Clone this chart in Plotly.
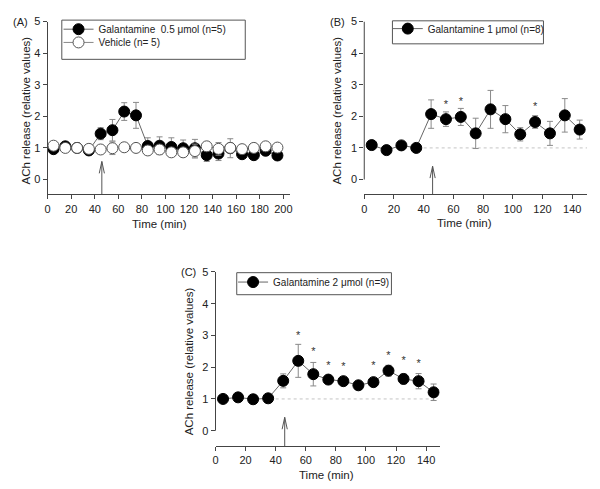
import plotly.graph_objects as go

W, H = 600, 489

# ---------------- data ----------------
TIME_A = [5, 15, 25, 35, 45, 55, 65, 75, 85, 95, 105, 115, 125, 135, 145, 155, 165, 175, 185, 195]
GAL05 = [0.96, 1.05, 1.0, 0.92, 1.45, 1.56, 2.15, 2.03, 1.06, 1.07, 1.03, 0.99, 0.99, 0.77, 0.82, 0.99, 0.80, 0.77, 0.91, 0.76]
GAL05_ERR = [0.05, 0.05, 0.05, 0.05, 0.19, 0.34, 0.28, 0.41, 0.26, 0.28, 0.29, 0.26, 0.28, 0.2, 0.22, 0.3, 0.1, 0.1, 0.1, 0.1]
VEH = [1.07, 1.0, 1.0, 0.97, 0.95, 0.99, 1.02, 1.0, 0.92, 0.95, 0.86, 0.86, 0.9, 1.05, 0.97, 1.0, 0.96, 1.0, 1.05, 1.01]
VEH_ERR = [0.05, 0.05, 0.05, 0.05, 0.08, 0.2, 0.08, 0.05, 0.1, 0.1, 0.12, 0.12, 0.22, 0.1, 0.2, 0.15, 0.1, 0.1, 0.1, 0.1]

TIME_BC = [5, 15, 25, 35, 45, 55, 65, 75, 85, 95, 105, 115, 125, 135, 145]
GAL1 = [1.09, 0.93, 1.08, 1.0, 2.07, 1.91, 1.98, 1.46, 2.22, 1.91, 1.43, 1.82, 1.46, 2.03, 1.58]
GAL1_ERR = [0.04, 0.04, 0.04, 0.04, 0.45, 0.23, 0.27, 0.48, 0.6, 0.43, 0.21, 0.2, 0.38, 0.53, 0.3]
GAL2 = [1.0, 1.05, 0.99, 1.02, 1.57, 2.2, 1.78, 1.61, 1.56, 1.43, 1.53, 1.89, 1.63, 1.56, 1.21]
GAL2_ERR = [0.04, 0.04, 0.04, 0.04, 0.22, 0.52, 0.37, 0.1, 0.1, 0.05, 0.1, 0.17, 0.16, 0.24, 0.26]

STAR_B_X = [55, 65, 115]
STAR_B_Y = [2.34, 2.45, 2.28]
STAR_C_X = [55, 65, 75, 85, 105, 115, 125, 135]
STAR_C_Y = [2.96, 2.46, 2.02, 1.99, 2.02, 2.35, 2.18, 2.08]

Y_TICKS = [0, 1, 2, 3, 4, 5]
X_TICKS_A = [0, 20, 40, 60, 80, 100, 120, 140, 160, 180, 200]
X_TICKS_BC = [0, 20, 40, 60, 80, 100, 120, 140]
INJECTION_TIME = 46
ARROW_TIP = {"A": 0.57, "B": 0.42, "C": 0.42}
BASELINE = 1

NAME_A1 = "Galantamine\u00a0 0.5 \u03bcmol (n=5)"
NAME_A2 = "Vehicle (n= 5)"
NAME_B = "Galantamine 1 \u03bcmol (n=8)"
NAME_C = "Galantamine 2 \u03bcmol (n=9)"
Y_TITLE = "ACh release (relative values)"
X_TITLE = "Time (min)"

FONT = "Liberation Sans, Arial, sans-serif"
AX_COL = "#444444"
TXT_COL = "#222222"
LINE_COL = "#666666"
ERR_COL = "#8a8a8a"
MSIZE = 11
LEG_OFF = 18.5  # px from legend top to first row centre


def px(x):
    return x / W


def py(y):
    return 1 - y / H


def err(arr):
    return dict(type="data", array=arr, visible=True, color=ERR_COL, thickness=1, width=3)


fig = go.Figure()

# Panel A
fig.add_trace(go.Scatter(
    x=TIME_A, y=GAL05, error_y=err(GAL05_ERR), mode="lines+markers", name=NAME_A1,
    line=dict(color=LINE_COL, width=1),
    marker=dict(size=MSIZE, color="black", line=dict(color="black", width=1)),
    xaxis="x", yaxis="y", legend="legend"))
fig.add_trace(go.Scatter(
    x=TIME_A, y=VEH, error_y=err(VEH_ERR), mode="lines+markers", name=NAME_A2,
    line=dict(color="#888888", width=1),
    marker=dict(size=MSIZE, color="white", line=dict(color="#555555", width=1)),
    xaxis="x", yaxis="y", legend="legend4"))

# Panel B
fig.add_trace(go.Scatter(
    x=TIME_BC, y=GAL1, error_y=err(GAL1_ERR), mode="lines+markers", name=NAME_B,
    line=dict(color=LINE_COL, width=1),
    marker=dict(size=MSIZE, color="black", line=dict(color="black", width=1)),
    xaxis="x2", yaxis="y2", legend="legend2"))
fig.add_trace(go.Scatter(
    x=STAR_B_X, y=STAR_B_Y, mode="text", text=["*"] * len(STAR_B_X), showlegend=False,
    textposition="middle center",
    textfont=dict(size=11, color="#333333", family=FONT), hoverinfo="skip",
    xaxis="x2", yaxis="y2"))

# Panel C
fig.add_trace(go.Scatter(
    x=TIME_BC, y=GAL2, error_y=err(GAL2_ERR), mode="lines+markers", name=NAME_C,
    line=dict(color=LINE_COL, width=1),
    marker=dict(size=MSIZE, color="black", line=dict(color="black", width=1)),
    xaxis="x3", yaxis="y3", legend="legend3"))
fig.add_trace(go.Scatter(
    x=STAR_C_X, y=STAR_C_Y, mode="text", text=["*"] * len(STAR_C_X), showlegend=False,
    textposition="middle center",
    textfont=dict(size=11, color="#333333", family=FONT), hoverinfo="skip",
    xaxis="x3", yaxis="y3"))


def xaxis(domain, rng, ticks, anchor):
    return dict(domain=domain, range=rng, tickvals=ticks, showgrid=False, zeroline=False,
                showline=True, linecolor=AX_COL, linewidth=1, ticks="outside", ticklen=4,
                tickcolor=AX_COL, tickfont=dict(size=11, color=TXT_COL, family=FONT),
                anchor=anchor, fixedrange=True)


def yaxis(domain, rng, anchor, showline):
    return dict(domain=domain, range=rng, tickvals=Y_TICKS, showgrid=False, zeroline=False,
                showline=showline, linecolor=AX_COL, linewidth=1, ticks="outside", ticklen=4,
                tickcolor=AX_COL, tickfont=dict(size=11, color=TXT_COL, family=FONT),
                anchor=anchor, fixedrange=True)


# geometry (pixels)
A_X0, A_X1 = 45, 289.8
A_Y0, A_Y1 = 190.7, 15.7
B_X0, B_X1 = 364.3, 589.0
C_X0, C_X1 = 214.3, 440.3
C_Y0, C_Y1 = 445.7, 269.3

legend_common = dict(bgcolor="rgba(0,0,0,0)", borderwidth=0, xanchor="left", yanchor="top",
                     font=dict(size=10, color=TXT_COL, family=FONT), itemclick=False,
                     itemdoubleclick=False)

fig.update_layout(
    width=W, height=H, autosize=False,
    margin=dict(l=0, r=0, t=0, b=0),
    paper_bgcolor="white", plot_bgcolor="white",
    font=dict(family=FONT, color=TXT_COL),
    xaxis=xaxis([px(A_X0), px(A_X1)], [0, 206], X_TICKS_A, "y"),
    yaxis=yaxis([py(A_Y0), py(A_Y1)], [-0.47, 5], "x", True),
    xaxis2=xaxis([px(B_X0), px(B_X1)], [0, 150], X_TICKS_BC, "y2"),
    yaxis2=yaxis([py(A_Y0), py(A_Y1)], [-0.47, 5], "x2", False),
    xaxis3=xaxis([px(C_X0), px(C_X1)], [0, 149], X_TICKS_BC, "y3"),
    yaxis3=yaxis([py(C_Y0), py(C_Y1)], [-0.49, 5], "x3", False),
    legend=dict(x=px(56), y=py(27.3 - LEG_OFF), **legend_common),
    legend4=dict(x=px(56), y=py(40.7 - LEG_OFF), **legend_common),
    legend2=dict(x=px(388), y=py(26.7 - LEG_OFF), **legend_common),
    legend3=dict(x=px(232), y=py(283.3 - LEG_OFF), **legend_common),
    showlegend=True,
)

shapes = []
# y-axis lines for B and C (0..5 only)
for xr, yr in (("x2", "y2"), ("x3", "y3")):
    shapes.append(dict(type="line", xref=f"{xr} domain", yref=yr, x0=0, x1=0, y0=0, y1=5,
                       line=dict(color=AX_COL, width=1)))
# dotted baseline in B and C
for xr, yr, xend in (("x2", "y2", 150), ("x3", "y3", 148)):
    shapes.append(dict(type="line", xref=xr, yref=yr, x0=40, x1=xend, y0=BASELINE, y1=BASELINE,
                       line=dict(color="#c4c4c4", width=1, dash="dot"), layer="below"))
# injection arrows
for key, xr, yr, ybot, pxu in (("A", "x", "y", -0.47, 1.1885), ("B", "x2", "y2", -0.47, 1.498),
                               ("C", "x3", "y3", -0.49, 1.517)):
    tip = ARROW_TIP[key]
    dx = 2.6 / pxu
    dy = 12 / 32.0
    x = INJECTION_TIME
    path = (f"M {x},{ybot} L {x},{tip} M {x - dx},{tip - dy} L {x},{tip} L {x + dx},{tip - dy}")
    shapes.append(dict(type="path", xref=xr, yref=yr, path=path,
                       line=dict(color="#555555", width=1)))
# legend boxes
for (x0, y0, x1, y1) in ((59.3, 14.3, 244.3, 54.0), (392.7, 15.0, 545.0, 38.3), (235.7, 270.0, 391.7, 292.3)):
    shapes.append(dict(type="rect", xref="paper", yref="paper", x0=px(x0), x1=px(x1),
                       y0=py(y1), y1=py(y0), line=dict(color="#555555", width=1),
                       fillcolor="rgba(0,0,0,0)"))
fig.update_layout(shapes=shapes)

ann = []
for label, x, y in (("(A)", 18, 15.7), ("(B)", 337.5, 15.7), ("(C)", 187.5, 269.3)):
    ann.append(dict(text=label, x=px(x), y=py(y), xref="paper", yref="paper", showarrow=False,
                    font=dict(size=11, color=TXT_COL, family=FONT), xanchor="center", yanchor="middle"))
for x, y in ((23, 106), (336.7, 106), (187.3, 360)):
    ann.append(dict(text=Y_TITLE, x=px(x), y=py(y), xref="paper", yref="paper", showarrow=False,
                    textangle=-90, font=dict(size=11.5, color=TXT_COL, family=FONT),
                    xanchor="center", yanchor="middle"))
for x, y in ((158, 220.7), (465.7, 220), (326.7, 475.3)):
    ann.append(dict(text=X_TITLE, x=px(x), y=py(y), xref="paper", yref="paper", showarrow=False,
                    font=dict(size=11.5, color=TXT_COL, family=FONT),
                    xanchor="center", yanchor="middle"))
fig.update_layout(annotations=ann)

fig.write_html("out.html", config={"displayModeBar": False},
               post_script="document.body.style.margin='0';document.body.style.padding='0';")
